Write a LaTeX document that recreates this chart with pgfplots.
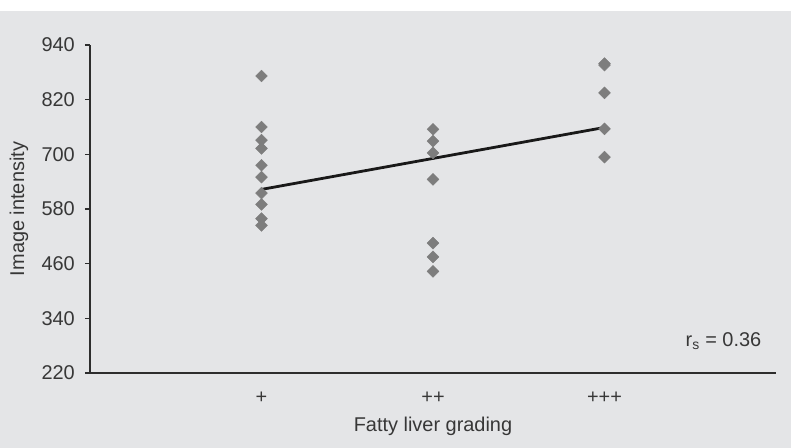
\documentclass[border=0pt]{standalone}
\usepackage{fontspec}
\setmainfont{Liberation Sans}
\usepackage{pgfplots}
\pgfplotsset{compat=1.18}
\definecolor{bg}{RGB}{228,229,231}
\definecolor{txt}{RGB}{55,55,55}
\definecolor{mk}{RGB}{125,125,125}
\definecolor{ax}{RGB}{45,45,45}
\begin{document}
\begin{tikzpicture}
\fill[white] (0bp,0bp) rectangle (791bp,448bp);
\fill[bg] (0bp,0bp) rectangle (791bp,437bp);
\path[use as bounding box] (0bp,0bp) rectangle (791bp,448bp);
\begin{axis}[
  at={(90bp,75bp)}, anchor=south west,
  scale only axis, width=686bp, height=328bp,
  xmin=0, xmax=4, ymin=220, ymax=940,
  ytick={220,340,460,580,700,820,940},
  xtick={1,2,3}, xticklabels={+,++,+++},
  axis x line*=bottom, axis y line*=left,
  axis line style={ax, line width=1.3bp},
  major x tick style={draw=none},
  major y tick style={ax, line width=1.2bp},
  tick align=outside, major tick length=5bp,
  /pgf/number format/assume math mode=true,
  every tick label/.append style={font=\fontsize{20}{24}\selectfont, text=txt},
  yticklabel style={anchor=east, inner sep=0pt, xshift=-10bp},
  xticklabel style={anchor=center, inner sep=0pt, yshift=-20bp},
  xlabel={Fatty liver grading}, ylabel={Image intensity},
  label style={font=\fontsize{20}{24}\selectfont, text=txt},
  xlabel style={at={(axis description cs:0.5,-0.1616)}, anchor=center},
  ylabel style={at={(axis description cs:-0.1035,0.5)}, anchor=center},
  clip=false,
]
\addplot[only marks, mark=square*, mark size=4.2bp, color=mk,
  every mark/.append style={rotate=45}] coordinates {
  (1,872) (1,760) (1,731) (1,713) (1,676) (1,650) (1,615) (1,590) (1,559) (1,544)
  (2,755) (2,729) (2,703) (2,645) (2,505) (2,475) (2,443)
  (3,899) (3,896) (3,835) (3,756) (3,694)
};
\addplot[line width=2.8bp, color=black!90, no marks] coordinates {(1,623) (3,759)};
\node[anchor=east, font=\fontsize{20}{24}\selectfont, text=txt, inner sep=0pt] at (axis cs:3.915,290) {r\textsubscript{s} = 0.36};
\end{axis}
\end{tikzpicture}
\end{document}
